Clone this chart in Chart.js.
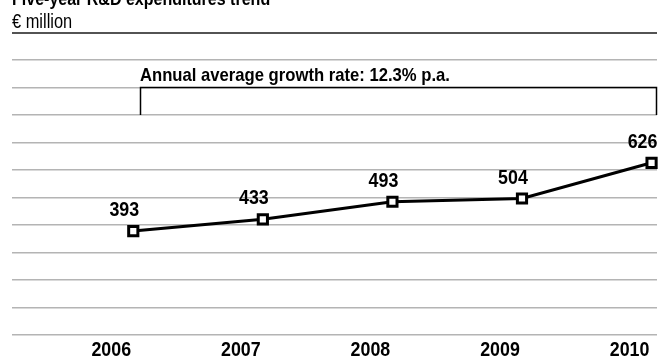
<!DOCTYPE html>
<html>
<head>
<meta charset="utf-8">
<script src="https://cdn.jsdelivr.net/npm/chart.js@4/dist/chart.umd.min.js"></script>
<style>
  html, body { margin: 0; padding: 0; background: #fff; overflow: hidden; }
  #wrap { width: 659px; height: 358px; }
</style>
</head>
<body>
<div id="wrap"><canvas id="c" width="659" height="358"></canvas></div>
<script>
// R&D spending per year, € million
const years = [2006, 2007, 2008, 2009, 2010];
const spending = [393, 433, 493, 504, 626];

const titleText = 'Five-year R&D expenditures trend';
const unitText = '€ million';
const growthNote = 'Annual average growth rate: 12.3% p.a.';

const FONT = '"Liberation Sans", Arial, sans-serif';

// draw text squeezed horizontally to get a condensed face
function narrowText(ctx, txt, x, y, squeeze, align) {
  const w = ctx.measureText(txt).width * squeeze;
  let left = x;
  if (align === 'center') left = x - w / 2;
  else if (align === 'right') left = x - w;
  ctx.save();
  ctx.translate(left, y);
  ctx.scale(squeeze, 1);
  ctx.textAlign = 'left';
  ctx.fillText(txt, 0, 0);
  ctx.restore();
  return w;
}

const labelsPlugin = {
  id: 'labels',
  afterDraw(chart) {
    const ctx = chart.ctx;
    const area = chart.chartArea;
    const xs = chart.scales.x;
    const gs = chart.scales.grid;
    const meta = chart.getDatasetMeta(0);
    ctx.save();
    ctx.fillStyle = '#000';
    ctx.textBaseline = 'alphabetic';

    // heading and unit
    ctx.font = 'bold 18px ' + FONT;
    narrowText(ctx, titleText, area.left, 5, 0.89, 'left');
    ctx.font = '20px ' + FONT;
    narrowText(ctx, unitText, area.left, 28, 0.82, 'left');

    // rule under the heading
    ctx.strokeStyle = '#1a1a1a';
    ctx.lineWidth = 1.5;
    ctx.beginPath();
    ctx.moveTo(area.left, 33);
    ctx.lineTo(area.right, 33);
    ctx.stroke();

    // growth bracket spanning the period
    const bl = Math.round(xs.getPixelForValue(years[0])) + 7.5;
    const br = area.right - 0.5;
    const bt = gs.getPixelForValue(9);
    const bb = gs.getPixelForValue(8);
    ctx.strokeStyle = '#000';
    ctx.lineWidth = 1.5;
    ctx.beginPath();
    ctx.moveTo(bl, bb);
    ctx.lineTo(bl, bt);
    ctx.lineTo(br, bt);
    ctx.lineTo(br, bb);
    ctx.stroke();
    ctx.font = 'bold 18.5px ' + FONT;
    narrowText(ctx, growthNote, bl - 0.5, bt - 7, 0.9, 'left');

    // value labels above each point
    ctx.font = 'bold 20.5px ' + FONT;
    meta.data.forEach((pt, i) => {
      narrowText(ctx, String(spending[i]), pt.x - 9, pt.y - 15, 0.87, 'center');
    });

    // year labels under the plot
    years.forEach((yr) => {
      const txt = String(yr);
      const w = ctx.measureText(txt).width * 0.87;
      let cx = xs.getPixelForValue(yr) - 22;
      cx = Math.min(cx, chart.width - 3 - w / 2);
      narrowText(ctx, txt, cx, 356, 0.87, 'center');
    });
    ctx.restore();
  }
};

new Chart(document.getElementById('c'), {
  type: 'line',
  data: {
    datasets: [{
      data: years.map((yr, i) => ({ x: yr, y: spending[i] })),
      borderColor: '#000',
      borderWidth: 3,
      tension: 0,
      pointStyle: 'rect',
      pointRadius: 6.5,
      pointBorderWidth: 3,
      pointBorderColor: '#000',
      pointBackgroundColor: '#fff',
      clip: false
    }]
  },
  options: {
    responsive: false,
    animation: false,
    devicePixelRatio: 1,
    layout: { autoPadding: false, padding: { left: 12, right: 2, top: 60, bottom: 23 } },
    plugins: { legend: { display: false }, tooltip: { enabled: false } },
    scales: {
      x: { type: 'linear', display: false, min: 2005.064, max: 2010.042 },
      y: { type: 'linear', display: false, min: 38, max: 977 },
      grid: {
        type: 'linear', position: 'left', min: 0, max: 10,
        ticks: { stepSize: 1, display: false },
        grid: { color: '#b4b4b4', lineWidth: 1.5, drawTicks: false },
        border: { display: false }
      }
    }
  },
  plugins: [labelsPlugin]
});
</script>
</body>
</html>
